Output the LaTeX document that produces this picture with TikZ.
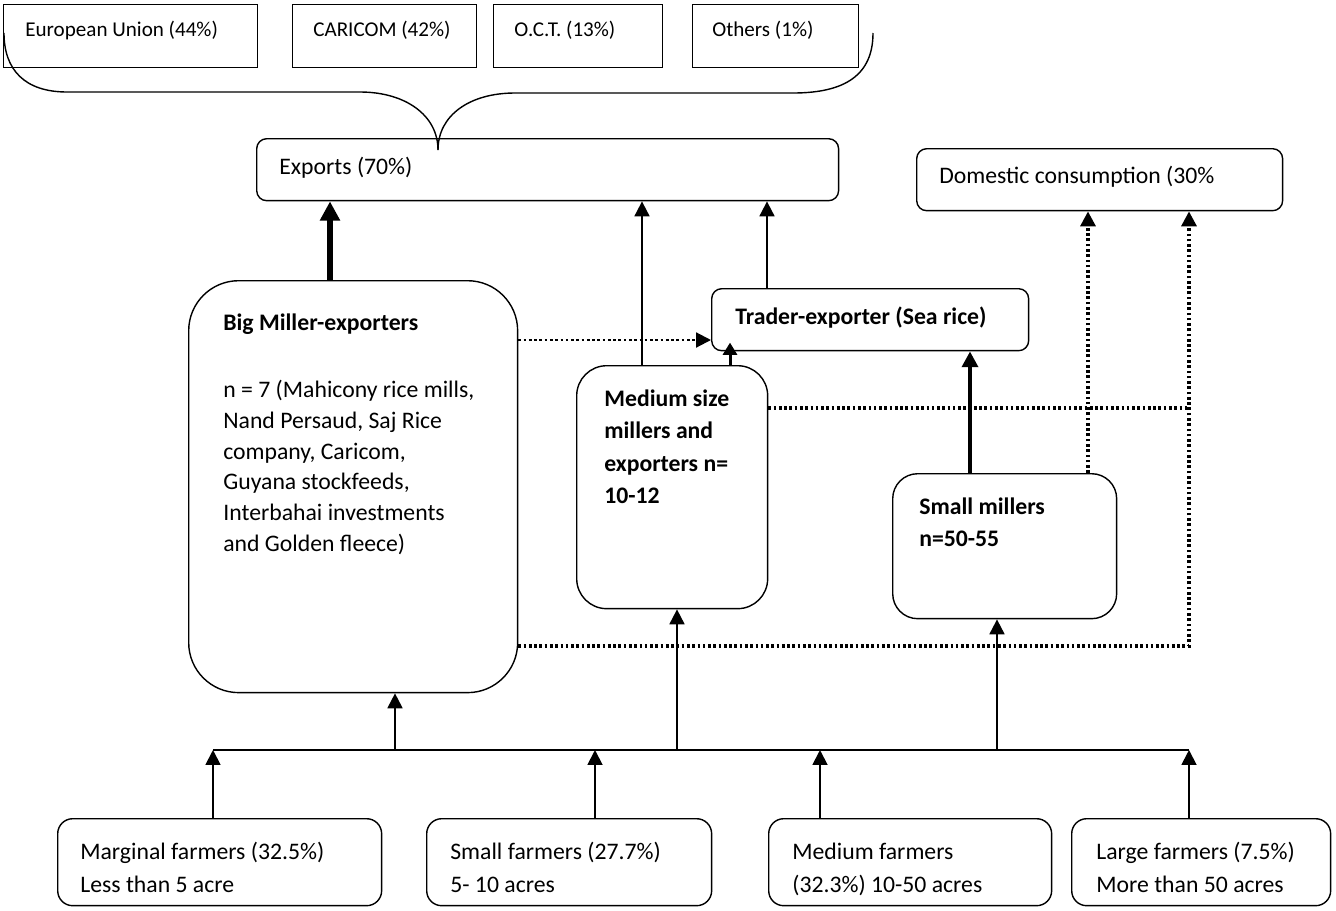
\documentclass[tikz,border=0pt]{standalone}
\usepackage{fontspec}
\setmainfont{Carlito}
\usetikzlibrary{arrows.meta, positioning}

\begin{document}
\begin{tikzpicture}[x=0.02cm, y=-0.02cm,
    box/.style=
    {draw, line width=0.8pt, rounded corners=0.2cm, inner sep=0pt, anchor=north west}, market/.style=
    {draw, line width=0.8pt, inner sep=0pt, anchor=north west, minimum height=1.26cm},
    lbl/.style={inner sep=0pt, anchor=base west, align=left, font=\fontsize{13.5}{17.5}\selectfont},
    blbl/.style={lbl, anchor=north west, font=\fontsize{13.5}{18.5}\selectfont\bfseries},
    mlbl/.style={lbl, font=\fontsize{12}{15}\selectfont},
    flbl/.style={lbl, anchor=north west, font=\fontsize{13.5}{18.5}\selectfont},
    arr/.style={line width=1.1pt, -{Triangle[width=8.5pt,length=8.5pt]}},
    dotarr/.style={line width=1.9pt, dash pattern=on 1.5pt off 1.5pt, -{Triangle[width=8.5pt,length=8.5pt]}}]
    \useasboundingbox (0,0) rectangle (1336,910);

    % export markets
    \node (eu) [market, minimum width=5.08cm] at (3,4) {};
    \node (caricom) [market, minimum width=3.68cm] at (292,4) {};
    \node (oct) [market, minimum width=3.38cm] at (493,4) {};
    \node (others) [market, minimum width=3.32cm] at (692,4) {};
    \node (eu-t) [mlbl] at (25,36) {European Union (44\%)};
    \node (caricom-t) [mlbl] at (313,36) {CARICOM (42\%)};
    \node (oct-t) [mlbl] at (514,36) {O.C.T. (13\%)};
    \node (others-t) [mlbl] at (712,36) {Others (1\%)};
    \draw[line width=0.8pt] (4,33) .. controls (4,70) and (25,92) .. (67,92) -- (360,92)
        .. controls (405,92) and (438,115) .. (438,150);
    \draw[line width=0.8pt] (438,150) .. controls (438,115) and (470,93) .. (515,93) -- (793,93)
        .. controls (845,93) and (873,75) .. (873,33);

    % outlets
    \node (exports) [box, minimum width=11.64cm, minimum height=1.24cm] at (256,138) {};
    \node (exports-t) [lbl] at (279,174) {Exports (70\%)};
    \node (domestic) [box, minimum width=7.32cm, minimum height=1.24cm] at (916,148) {};
    \node (domestic-t) [lbl] at (939,183) {Domestic consumption (30\%};

    % millers
    \node (bigmill) [box, rounded corners=1cm, minimum width=6.58cm, minimum height=8.24cm] at (188,280) {};
    \node (bigmill-t) [lbl, anchor=north west] at (223,313) {\textbf{Big Miller-exporters}\\[21pt]
        n = 7 (Mahicony rice mills,\\ Nand Persaud, Saj Rice\\ company, Caricom,\\
        Guyana stockfeeds,\\ Interbahai investments\\ and Golden fleece)};
    \node (trader) [box, minimum width=6.34cm, minimum height=1.24cm] at (711,288) {};
    \node (trader-t) [lbl, font=\fontsize{13.5}{17.5}\selectfont\bfseries] at (735,324) {Trader-exporter (Sea rice)};
    \node (medmill) [box, rounded corners=0.6cm, minimum width=3.82cm, minimum height=4.86cm] at (576,365) {};
    \node (medmill-t) [blbl] at (604,389) {Medium size\\ millers and\\ exporters n=\\ 10-12};
    \node (smallmill) [box, rounded corners=0.5cm, minimum width=4.48cm, minimum height=2.9cm] at (892,473) {};
    \node (smallmill-t) [blbl] at (919,497) {Small millers\\ n=50-55};

    % farmers
    \node (marginal) [box, rounded corners=0.3cm, minimum width=6.48cm, minimum height=1.74cm] at (57,818) {};
    \node (smallfarm) [box, rounded corners=0.3cm, minimum width=5.7cm, minimum height=1.74cm] at (426,818) {};
    \node (medfarm) [box, rounded corners=0.3cm, minimum width=5.66cm, minimum height=1.74cm] at (768,818) {};
    \node (largefarm) [box, rounded corners=0.3cm, minimum width=5.18cm, minimum height=1.74cm] at (1071,818) {};
    \node (marginal-t) [flbl] at (80,842) {Marginal farmers (32.5\%)\\ Less than 5 acre};
    \node (smallfarm-t) [flbl] at (450,842) {Small farmers (27.7\%)\\ 5- 10 acres};
    \node (medfarm-t) [flbl] at (792,842) {Medium farmers\vphantom{(}\\ (32.3\%) 10-50 acres};
    \node (largefarm-t) [flbl] at (1096,842) {Large farmers (7.5\%)\\ More than 50 acres};

    % collecting line
    \coordinate (bus west) at (213,750);
    \coordinate (bus east) at (1189,750);
    \draw[line width=1.1pt] (bus west) -- (bus east);
    \foreach \f/\x in {marginal/213, smallfarm/595, medfarm/820, largefarm/1189}
        \draw[arr] (\f.north -| \x,0) -- (bus west -| \x,0);
    \foreach \m/\x in {bigmill/395, medmill/677, smallmill/997}
        \draw[arr] (bus west -| \x,0) -- (\m.south -| \x,0);

    % flows
    \draw[line width=3.4pt, -{Triangle[width=11pt,length=11pt]}] (bigmill.north -| 330,0) -- (exports.south -| 330,0);
    \draw[arr] (medmill.north -| 642,0) -- (exports.south -| 642,0);
    \draw[arr] (trader.north -| 767,0) -- (exports.south -| 767,0);
    \draw[line width=1.7pt, shorten >=-5pt, -{Triangle[width=8pt,length=7pt]}] (medmill.north -| 730,0) -- (trader.south -| 730,0);
    \draw[line width=2.3pt, -{Triangle[width=9pt,length=9pt]}] (smallmill.north -| 970,0) -- (trader.south -| 970,0);
    \draw[dotarr, line width=1.2pt] (bigmill.east |- 0,340) -- (trader.west |- 0,340);
    \draw[dotarr] (smallmill.north -| 1088,0) -- (domestic.south -| 1088,0);
    \draw[dotarr] (bigmill.east |- 0,646) -- (1189,646) -- (domestic.south -| 1189,0);
    \draw[dotarr, -] (medmill.east |- 0,408) -- (1189,408);
\end{tikzpicture}
\end{document}
